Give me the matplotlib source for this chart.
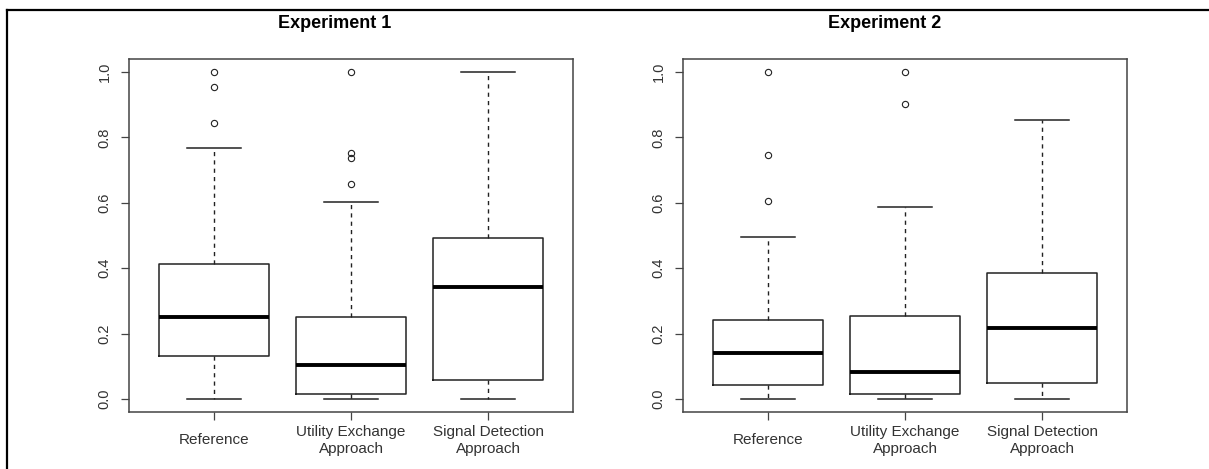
import matplotlib.pyplot as plt
from matplotlib.lines import Line2D

plt.rcParams['font.family'] = ['Liberation Sans', 'DejaVu Sans']

# box statistics
labels = ['Reference', 'Utility Exchange\nApproach', 'Signal Detection\nApproach']
titles = ['Experiment 1', 'Experiment 2']

exp1_med = [0.252, 0.103, 0.342]
exp1_q1 = [0.131, 0.016, 0.059]
exp1_q3 = [0.414, 0.251, 0.491]
exp1_lo = [0.0, 0.0, 0.0]
exp1_hi = [0.767, 0.603, 1.0]
exp1_out = [[1.0, 0.954, 0.845], [1.0, 0.753, 0.737, 0.657], []]

exp2_med = [0.142, 0.081, 0.218]
exp2_q1 = [0.042, 0.016, 0.048]
exp2_q3 = [0.243, 0.255, 0.385]
exp2_lo = [0.0, 0.0, 0.0]
exp2_hi = [0.495, 0.586, 0.853]
exp2_out = [[1.0, 0.745, 0.606], [1.0, 0.902], []]

yticks = [0.0, 0.2, 0.4, 0.6, 0.8, 1.0]

AX_COL = '#444444'

def make_stats(med, q1, q3, lo, hi, out):
    stats = []
    for i in range(len(med)):
        stats.append(dict(med=med[i], q1=q1[i], q3=q3[i],
                          whislo=lo[i], whishi=hi[i], fliers=out[i]))
    return stats

fig = plt.figure(figsize=(12.09, 4.69), dpi=100)
W, H = 1209, 469
ax1 = fig.add_axes([129 / W, 1 - 412 / H, 444 / W, 353 / H])
ax2 = fig.add_axes([683 / W, 1 - 412 / H, 444 / W, 353 / H])

data = [make_stats(exp1_med, exp1_q1, exp1_q3, exp1_lo, exp1_hi, exp1_out),
        make_stats(exp2_med, exp2_q1, exp2_q3, exp2_lo, exp2_hi, exp2_out)]

for ax, st in zip([ax1, ax2], data):
    ax.bxp(st, positions=[1, 2, 3], widths=0.8, capwidths=0.4,
           boxprops=dict(color='#222222', linewidth=1.1),
           medianprops=dict(color='black', linewidth=2.8, solid_capstyle='butt'),
           whiskerprops=dict(color='#222222', linewidth=1.0, linestyle=(0, (3, 3))),
           capprops=dict(color='#222222', linewidth=1.1),
           flierprops=dict(marker='o', markersize=4.5, markerfacecolor='none',
                           markeredgecolor='#222222', markeredgewidth=0.8))
    ax.set_xlim(0.38, 3.62)
    ax.set_ylim(-0.04, 1.04)
    ax.set_yticks(yticks)
    ax.set_yticklabels(['%.1f' % v for v in yticks], rotation=90, va='center')
    ax.set_xticks([1, 2, 3])
    ax.set_xticklabels(labels, linespacing=1.2)
    for lab in ax.get_xticklabels():
        lab.set_verticalalignment('center')
    ax.tick_params(axis='y', length=5.5, width=0.9, color=AX_COL, pad=7,
                   labelsize=10.5, labelcolor='#333333')
    ax.tick_params(axis='x', length=5.5, width=0.9, color=AX_COL, pad=15,
                   labelsize=11, labelcolor='#333333')
    for s in ax.spines.values():
        s.set_color(AX_COL)
        s.set_linewidth(1.1)

fig.text(335 / W, 1 - 23 / H, titles[0], ha='center', va='center',
         fontsize=13, fontweight='bold')
fig.text(885 / W, 1 - 23 / H, titles[1], ha='center', va='center',
         fontsize=13, fontweight='bold')

# frame remnant around the figure
fig.add_artist(Line2D([6.5 / W, 1], [1 - 10 / H, 1 - 10 / H], color='black',
                      linewidth=1.6, transform=fig.transFigure))
fig.add_artist(Line2D([6.5 / W, 6.5 / W], [0, 1 - 10 / H], color='black',
                      linewidth=1.6, transform=fig.transFigure))

fig.savefig('out.png', dpi=100, facecolor='white')
